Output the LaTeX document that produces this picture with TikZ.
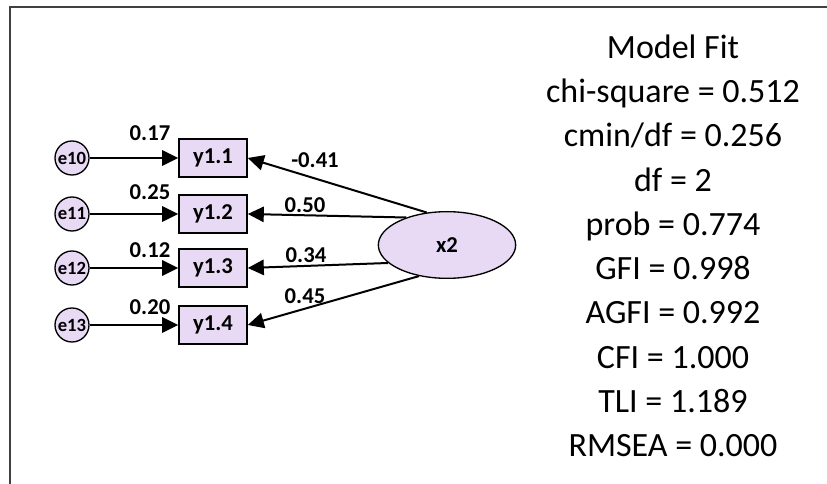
\documentclass[tikz,border=0pt]{standalone}
\usepackage{fontspec}
\setmainfont{Carlito}
\usetikzlibrary{arrows.meta,shapes.geometric}
\definecolor{semfill}{HTML}{E8DAF4}
\definecolor{framegray}{HTML}{404040}

\begin{document}
\begin{tikzpicture}[x=0.75pt, y=-0.75pt,
    obs/.style={draw, line width=1.2pt, fill=semfill, minimum width=51pt, minimum height=28.5pt, inner sep=0pt, font=\fontsize{17}{20}\selectfont\bfseries},
    err/.style={circle, draw, line width=1pt, fill=semfill, minimum size=25.5pt, inner sep=0pt, font=\fontsize{14}{16}\selectfont\bfseries},
    lat/.style={ellipse, draw, line width=1pt, fill=semfill, minimum width=103pt, minimum height=50pt, inner sep=0pt, font=\fontsize{17}{20}\selectfont\bfseries},
    regline/.style={line width=1.5pt, -{Triangle[length=12pt, width=11.5pt]}},
    wt/.style={inner sep=0pt, font=\fontsize{17}{20}\selectfont\bfseries},
    fitline/.style={inner sep=0pt, anchor=base, font=\fontsize{25.5}{30}\selectfont}]
    \useasboundingbox (0,0) rectangle (827,484);
    % frame
    \draw[line width=1.1pt, framegray] (10,484) -- (10,7) -- (827,7);

    % latent variable
    \node[lat] (x2) at (447,245) {x2};

    % indicators and their errors
    \node[obs] (y11) at (213,158) {y1.1};
    \node[obs] (y12) at (213,214) {y1.2};
    \node[obs] (y13) at (213,268) {y1.3};
    \node[obs] (y14) at (213,325) {y1.4};
    \node[err] (e10) at (72,158) {e10};
    \node[err] (e11) at (72,214) {e11};
    \node[err] (e12) at (72,268) {e12};
    \node[err] (e13) at (72,325) {e13};

    % error paths
    \draw[regline] (e10) -- (y11);
    \draw[regline] (e11) -- (y12);
    \draw[regline] (e12) -- (y13);
    \draw[regline] (e13) -- (y14);
    \node[wt] (r11) at (150,133) {0.17};
    \node[wt] (r12) at (150,192) {0.25};
    \node[wt] (r13) at (150,250) {0.12};
    \node[wt] (r14) at (150,307) {0.20};

    % loadings
    \draw[regline] (x2.122) -- (y11.east);
    \draw[regline] (x2.146) -- (y12.east);
    \draw[regline] (x2.197) -- (y13.east);
    \draw[regline] (x2.228) -- (y14.east);
    \node[wt] (l11) at (315,160) {-0.41};
    \node[wt] (l12) at (305,205) {0.50};
    \node[wt] (l13) at (306,255) {0.34};
    \node[wt] (l14) at (305,296) {0.45};

    % model fit
    \foreach \txt [count=\i] in {Model Fit, chi-square = 0.512, cmin/df = 0.256, df = 2, prob = 0.774, GFI = 0.998, AGFI = 0.992, CFI = 1.000, TLI = 1.189, RMSEA = 0.000}
        \node[fitline] (fit\i) at (673, 14.4 + 44.2*\i) {\txt};
\end{tikzpicture}
\end{document}
